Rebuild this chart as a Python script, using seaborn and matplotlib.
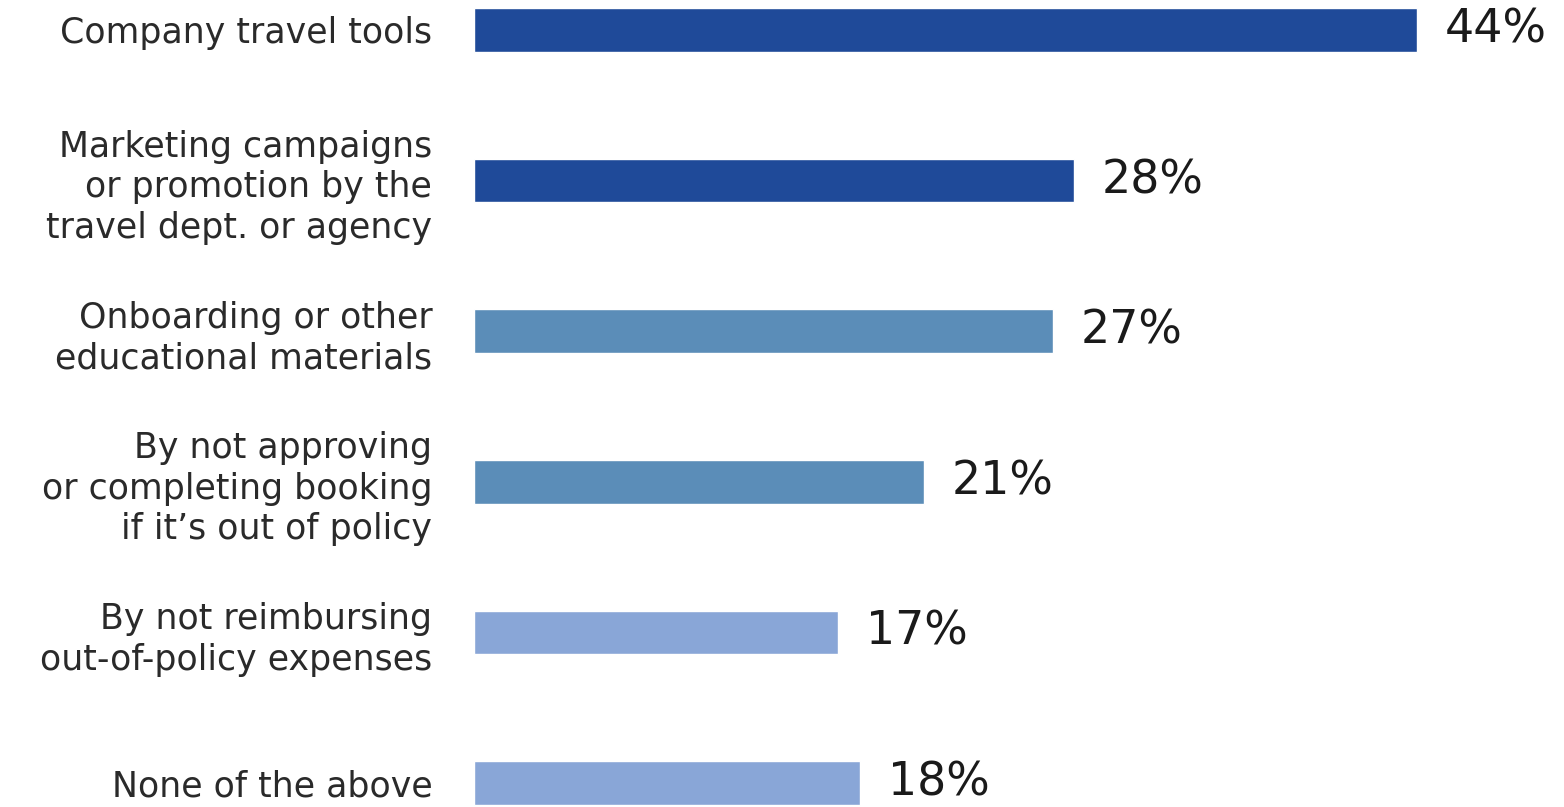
import matplotlib
matplotlib.use("Agg")
import matplotlib.pyplot as plt
import seaborn as sns
import pandas as pd

categories = [
    "Company travel tools",
    "Marketing campaigns\nor promotion by the\ntravel dept. or agency",
    "Onboarding or other\neducational materials",
    "By not approving\nor completing booking\nif it\u2019s out of policy",
    "By not reimbursing\nout-of-policy expenses",
    "None of the above",
]
values = [44, 28, 27, 21, 17, 18]
value_labels = ["44%", "28%", "27%", "21%", "17%", "18%"]
colors = ["#1F4A99", "#1F4A99", "#5B8DB8", "#5B8DB8", "#89A6D7", "#89A6D7"]

sns.set_theme(style="white")
plt.rcParams["font.family"] = ["DejaVu Sans"]

df = pd.DataFrame({"category": categories, "value": values})

W, H = 1564, 807
fig = plt.figure(figsize=(W / 100, H / 100), dpi=100)
fig.patch.set_facecolor("white")
ax = fig.add_axes([474 / W, 0, (W - 474) / W, 1])

sns.barplot(data=df, y="category", x="value", hue="category",
            palette=colors, legend=False, width=0.29, ax=ax,
            saturation=1, orient="h")

px_per_unit = (1417 - 474) / 44
ax.set_xlim(0, (W - 474) / px_per_unit)
step = 150.6
ax.set_ylim((807 - 30) / step, -30 / step)

for i, (v, lab) in enumerate(zip(values, value_labels)):
    ax.annotate(lab, xy=(v, i), xytext=(28, 0), textcoords="offset pixels",
                ha="left", va="center", fontsize=33, color="#1a1a1a")

ax.set_yticks(range(len(categories)))
ax.set_yticklabels(categories, fontsize=25, color="#2a2a2a",
                   linespacing=1.25, ha="right")
ax.tick_params(axis="y", length=0, pad=30)
ax.set_xticks([])
ax.set_xlabel("")
ax.set_ylabel("")
for s in ax.spines.values():
    s.set_visible(False)

fig.savefig("out.png", dpi=100)
